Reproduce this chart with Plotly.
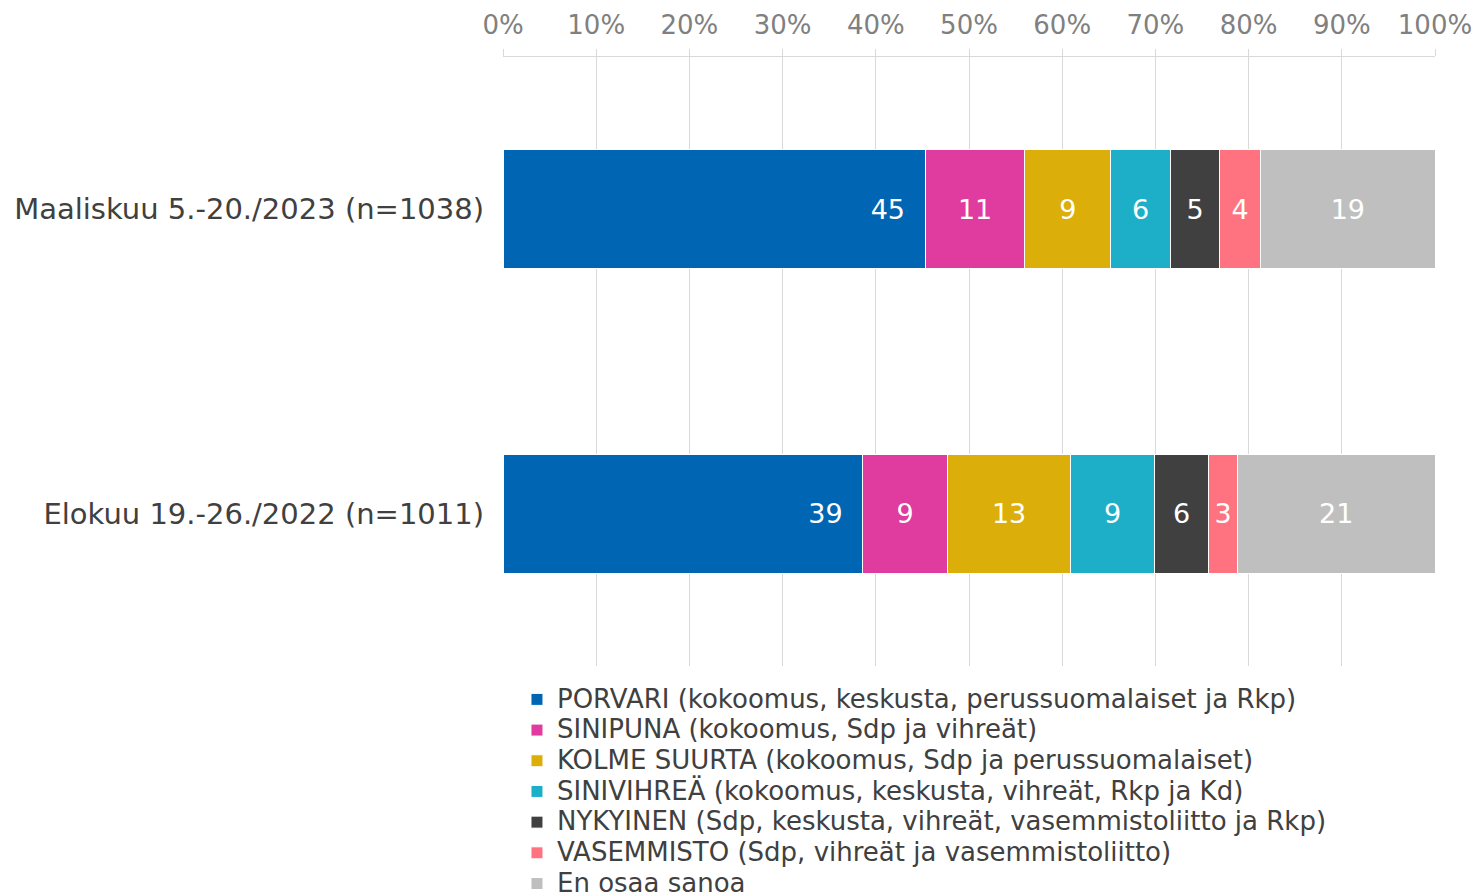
import plotly.graph_objects as go

categories = ["Elokuu 19.-26./2022 (n=1011)", "Maaliskuu 5.-20./2023 (n=1038)"]
series_names = [
    "PORVARI (kokoomus, keskusta, perussuomalaiset ja Rkp)",
    "SINIPUNA (kokoomus, Sdp ja vihreät)",
    "KOLME SUURTA (kokoomus, Sdp ja perussuomalaiset)",
    "SINIVIHREÄ (kokoomus, keskusta, vihreät, Rkp ja Kd)",
    "NYKYINEN (Sdp, keskusta, vihreät, vasemmistoliitto ja Rkp)",
    "VASEMMISTO (Sdp, vihreät ja vasemmistoliitto)",
    "En osaa sanoa",
]
# values per series: [Elokuu 2022, Maaliskuu 2023]
porvari = [38.6, 45.3]
sinipuna = [9.1, 10.7]
kolme_suurta = [13.2, 9.2]
sinivihrea = [9.0, 6.4]
nykyinen = [5.8, 5.3]
vasemmisto = [3.1, 4.4]
eos = [21.2, 18.7]
series_values = [porvari, sinipuna, kolme_suurta, sinivihrea, nykyinen, vasemmisto, eos]
colors = ["#0066B3", "#E03B9E", "#DBAE0A", "#1EAFC8", "#404040", "#FF7381", "#BFBFBF"]
x_ticks = [0, 10, 20, 30, 40, 50, 60, 70, 80, 90, 100]

FONT = "DejaVu Sans"
fig = go.Figure()
for i, (name, vals, col) in enumerate(zip(series_names, series_values, colors)):
    first = i == 0
    fig.add_trace(go.Bar(
        y=categories, x=vals, orientation="h",
        name='<span style="font-size:26px">' + name + "</span>",
        marker=dict(color=col, line=dict(color="white", width=1)),
        texttemplate="%{x:.0f}\u00a0\u00a0" if first else "%{x:.0f}",
        textposition="inside",
        insidetextanchor="end" if first else "middle",
        textangle=0,
        textfont=dict(family=FONT, size=27, color="white"),
        hoverinfo="skip",
    ))

fig.update_layout(
    width=1473, height=886,
    barmode="stack", bargap=0.609,
    plot_bgcolor="white", paper_bgcolor="white",
    margin=dict(l=495, r=46, t=49, b=228, autoexpand=False),
    font=dict(family=FONT, color="#404040"),
    showlegend=True,
    legend=dict(
        orientation="v", traceorder="normal",
        x=0.015, xanchor="left", y=-0.0214, yanchor="top",
        font=dict(family=FONT, size=21.3, color="#404040"),
        tracegroupgap=0, bgcolor="rgba(0,0,0,0)",
    ),
    xaxis=dict(
        side="top", range=[0, 100], tickvals=x_ticks,
        ticktext=[f"{v}%" for v in x_ticks],
        showgrid=True, gridcolor="#D9D9D9", gridwidth=1,
        showline=True, linecolor="#D9D9D9", linewidth=1,
        ticks="outside", ticklen=7, tickcolor="#D9D9D9",
        ticklabelstandoff=5,
        tickfont=dict(family=FONT, size=26, color="#808080"),
        zeroline=False, fixedrange=True,
    ),
    yaxis=dict(
        type="category", categoryorder="array", categoryarray=categories,
        range=[-0.5, 1.5], showgrid=False, showline=False, ticks="",
        ticklabelstandoff=18,
        tickfont=dict(family=FONT, size=29, color="#404040"),
        zeroline=False, fixedrange=True,
    ),
)
fig.write_html("out.html")
